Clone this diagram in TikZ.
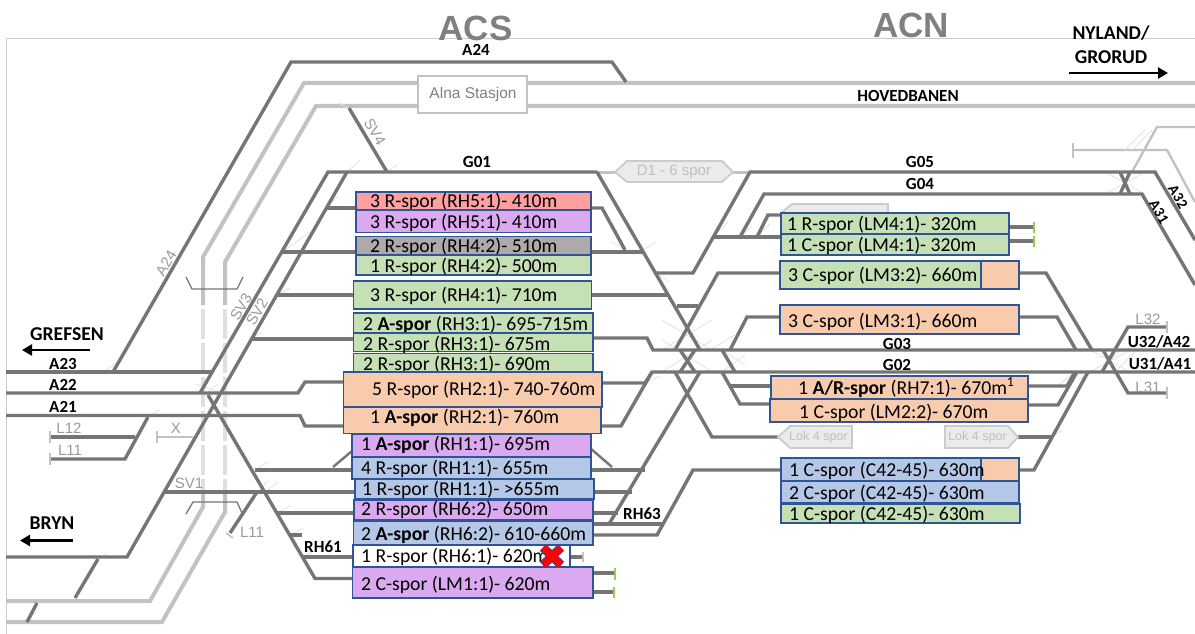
\documentclass[tikz,border=0pt]{standalone}
\usepackage{fontspec}
\setmainfont{Carlito}
\newfontfamily\arialf{Liberation Sans}
\usetikzlibrary{arrows.meta}
\definecolor{trk}{HTML}{757575}
\definecolor{lgt}{HTML}{C2C2C2}
\definecolor{dsh}{HTML}{E0E0E0}
\definecolor{shd}{HTML}{E2E2E2}
\definecolor{gtxt}{HTML}{9A9A9A}
\definecolor{bord}{HTML}{2F5597}
\definecolor{cgreen}{HTML}{C5E0B4}
\definecolor{corange}{HTML}{F8CBAD}
\definecolor{cpurple}{HTML}{DBA9F0}
\definecolor{cblue}{HTML}{B4C7E7}
\definecolor{cred}{HTML}{FF9F9F}
\definecolor{cgray}{HTML}{AEAAAA}
\definecolor{tgreen}{HTML}{92D050}
\tikzset{
  track/.style={draw=trk,line width=3.4pt,line join=miter},
  thin track/.style={draw=trk,line width=2.4pt},
  light track/.style={draw=lgt,line width=4pt},
  light thin/.style={draw=lgt,line width=2.4pt},
  dash track/.style={draw=dsh,line width=4pt,dash pattern=on 30pt off 4pt},
  shadow/.style={draw=shd,line width=0.8pt},
  endstop/.style={draw=lgt,line width=1.6pt},
  greenstop/.style={draw=tgreen,line width=2pt},
  boxshape/.style={draw=bord,line width=1.1pt},
  boxtext/.style={anchor=west,inner sep=0pt,font=\fontsize{19.7}{20}\selectfont,text height=14pt,text depth=2pt,text=black},
  blabel/.style={inner sep=0pt,font=\fontsize{17}{17}\selectfont\bfseries,text=black},
  place/.style={inner sep=0pt,font=\fontsize{19.6}{20}\selectfont\bfseries,text=black},
  glabel/.style={inner sep=0pt,font=\arialf\fontsize{15}{15}\selectfont,text=gtxt},
  bigarrow/.style={draw=black,line width=2.6pt,-{Triangle[length=10pt,width=11pt]}},
  plate/.style={draw=lgt!85,fill=black!8,line width=1.8pt},
  platetext/.style={inner sep=0pt,font=\arialf\fontsize{12.6}{13}\selectfont,text=black!25},
}
% name, x1, y1, x2, y2, fill, text x, text y, text
\newcommand{\sporbox}[9]{%
  \path[boxshape,fill=#6] (#2,#3) rectangle (#4,#5);
  \node[boxtext] (#1) at (#7,#8) {#9};
}
\begin{document}
\begin{tikzpicture}[x=1pt,y=-1pt]
\useasboundingbox (0,0) rectangle (1195,634);
\fill[white] (0,0) rectangle (1195,634);
% frame
\draw[black!20,line width=0.9pt] (6,634) -- (6,38.5) -- (1195,38.5);
% light tracks
\draw[light track] (1195,83) -- (304,83) -- (203,257) -- (203,305);
\draw[light track] (1195,106) -- (316,106) -- (225,262) -- (225,305);
\draw[dash track] (203,309) -- (203,490);
\draw[dash track] (225,309) -- (225,490);
\draw[light track] (6,601) -- (150,601) -- (203,507) -- (203,490);
\draw[light track] (6,622) -- (162,622) -- (225,512) -- (225,490);
\draw[light thin] (1195,127) -- (1157,127) -- (1132,172);
\draw[light thin] (1073,150) -- (1167,150) -- (1195,202);
\draw[endstop] (1073,143) -- (1073,158);
% faint switch shadows
\foreach \xa/\ya/\xb/\yb in {103/372/115/364,203/396/218/384,230/396/196/384,147/417/160/410,163/492/172/480,
  257/492/268/481,265/492/278/482,98/560/108/553,27/621/37/611,
  255/470/268/462,277/513/290/506,290/535/303/528,303/557/314/551,250/339/262/332,
  277/295/290/288,282/252/310/232,326/208/338/196,347/172/360/160,349/108/338/103,387/172/397/165,
  626/81/622/72,625/250/612/242,643/250/656/242,655/273/668/281,
  698/306/708/298,713/237/728/222,740/237/752/226,757/237/770/224,
  662/350/712/320,712/350/662/320,662/372/712/340,712/372/662/340,
  710/350/735/335,722/372/745/355,722/350/745/365,
  645/383/660/376,632/492/622/500,645/470/632/478,1052/437/1062/430,
  1105/172/1145/194,1145/172/1105/194,1125/150/1145/130,1132/150/1152/130,
  1075/372/1060/384,1090/372/1078/380,
  1090/350/1130/372,1130/350/1090/372,1100/372/1120/350,1115/372/1135/352}
  {\draw[shadow] (\xa,\ya) -- (\xb,\yb);}
% dark tracks: A24, SV lines
\draw[track] (113,372) -- (291,62) -- (612,62) -- (626,82);
\draw[track] (349,108) -- (387,172);
\draw[track] (6,372) -- (213,372);
\draw[track] (200,393) -- (328,172) -- (597,172);
\draw[track] (347,172) -- (127,557) -- (6,557);
\draw[track] (6,393) -- (298,393) -- (305,382) -- (343,382);
\draw[track] (6,415.5) -- (300,415.5) -- (305,426) -- (343,426);
\draw[track] (208,395) -- (315,578.5) -- (352,578.5);
\draw[track] (148,417) -- (125,459) -- (50,459);
\draw[track] (135,437) -- (50,437);
\draw[light thin] (157,437) -- (193,437);
\draw[endstop] (157,431) -- (157,443);
\draw[endstop] (50,431) -- (50,443);
\draw[endstop] (50,453) -- (50,465);
\draw[track] (163,492) -- (355,492);
\draw[track] (257,492) -- (230,533);
\draw[endstop] (226,533) -- (233,538);
\draw[track] (278,513) -- (354,513);
\draw[track] (290,535) -- (302,535);
\draw[track] (303,557) -- (353,557);
\draw[track] (255,470) -- (352,470);
\draw[thin track] (333,467) -- (352,451);
\draw[track] (326,208) -- (356,208);
\draw[track] (282,252) -- (356,252);
\draw[track] (277,295) -- (353,295);
\draw[track] (252,339) -- (353,339);
\draw[track] (98,559) -- (75,598);
\draw[track] (37,603) -- (27,622);
% bridges
\draw[draw=trk,line width=1.3pt] (186,277) -- (192,289) -- (237,289) -- (243,277);
\draw[draw=trk,line width=1.3pt] (186,514) -- (193,502) -- (237,502) -- (242,513);
% centre
\draw[light track,line width=3pt] (597,172) -- (615,172);
\draw[light track,line width=3pt] (733,172) -- (750,172);
\draw[track] (597,172) -- (700,350);
\draw[track] (591,208) -- (602,208) -- (625,250);
\draw[track] (591,252) -- (643,252);
\draw[track] (592,295) -- (668,295);
\draw[track] (655,273) -- (693,273) -- (750,172) -- (1155,172) -- (1195,240);
\draw[track] (713,237) -- (782,237);
\draw[track] (740,237) -- (764,194) -- (1142,194) -- (1195,285);
\draw[track] (757,237) -- (768,215) -- (782,215);
\draw[track] (782,273) -- (718,273) -- (675,350);
\draw[track] (677,306) -- (698,306);
\draw[track] (592,338) -- (647,338) -- (653,350) -- (1195,350);
\draw[track] (602,383) -- (645,383) -- (652,372) -- (1195,372);
\draw[track] (602,426) -- (621,426) -- (652,372);
\draw[track] (680,350) -- (695,372);
\draw[track] (695,350) -- (680,372);
\draw[track] (675,372) -- (712,437) -- (782,437);
\draw[track] (700,372) -- (609,524);
\draw[track] (782,317) -- (747,317) -- (730,350);
\draw[track] (722,350) -- (735,372);
\draw[track] (722,372) -- (740,404) -- (772,404);
\draw[track] (730,386) -- (772,386);
\draw[thin track] (590,448) -- (612,467);
\draw[track] (591,470) -- (645,470);
\draw[track] (593,492) -- (632,492);
\draw[track] (593,513) -- (618,513);
\draw[track] (593,524) -- (662,524);
\draw[track] (593,535) -- (657,535) -- (693,470) -- (782,470);
\draw[track] (570,557) -- (582,557);
\draw[endstop] (583,552) -- (583,562);
\draw[track] (592,573) -- (614,573);
\draw[track] (592,592) -- (614,592);
\draw[greenstop] (614.5,568) -- (614.5,580);
\draw[greenstop] (614,587) -- (614,598);
% right
\draw[track] (1120,172) -- (1130,194);
\draw[track] (1130,172) -- (1120,194);
\draw[track] (1009,227) -- (1033,227);
\draw[track] (1009,241) -- (1033,241);
\draw[greenstop] (1033.5,222) -- (1033.5,233);
\draw[greenstop] (1033.5,236) -- (1033.5,247);
\draw[track] (1019,273) -- (1046,273) -- (1092,350);
\draw[track] (1019,317) -- (1057,317) -- (1076,350);
\draw[track] (1167,327) -- (1128,327) -- (1102,372);
\draw[track] (1103,350) -- (1128,393) -- (1167,393);
\draw[endstop] (1167,321) -- (1167,333);
\draw[endstop] (1167,387) -- (1167,399);
\draw[track] (1027,386) -- (1067,386) -- (1075,372);
\draw[track] (1027,405) -- (1058,405) -- (1077,372);
\draw[track] (1018,470) -- (1034,470) -- (1088,372);
\draw[track] (1018,437) -- (1052,437);
% plates
\node[plate,draw=lgt,minimum width=109pt,minimum height=37pt,inner sep=0pt,fill=white,line width=2.4pt] (alna) at (472.5,94.5) {};
\node[inner sep=0pt,font=\arialf\fontsize{15.5}{16}\selectfont,text=black!50] (alnat) at (473,94) {Alna Stasjon};
\path[plate] (615,172) -- (627,161) -- (722,161) -- (733,172) -- (722,182) -- (627,182) -- cycle;
\node[platetext,font=\arialf\fontsize{15}{15}\selectfont] (d1) at (674,171.5) {D1 - 6 spor};
\path[plate] (778,437) -- (790,426) -- (852,426) -- (852,448) -- (790,448) -- cycle;
\node[platetext] (lok1) at (818.5,437) {Lok 4 spor};
\path[plate] (1018,437) -- (1008,426) -- (945,426) -- (945,448) -- (1008,448) -- cycle;
\node[platetext] (lok2) at (977.5,437) {Lok 4 spor};
\path[plate] (781,213) -- (792,204) -- (888,204) -- (888,213) -- cycle;
% left column boxes
\sporbox{b1}{356}{192}{591}{210}{cred}{370}{201}{3 R-spor (RH5:1)- 410m}
\sporbox{b2}{356}{210}{591}{232.5}{cpurple}{370}{222}{3 R-spor (RH5:1)- 410m}
\sporbox{b3}{356}{236.5}{591}{255}{cgray}{370}{246.5}{2 R-spor (RH4:2)- 510m}
\sporbox{b4}{356}{255}{591}{275}{cgreen}{370}{266.5}{1 R-spor (RH4:2)- 500m}
\sporbox{b5}{353.5}{281}{591.5}{309}{cgreen}{370}{295.5}{3 R-spor (RH4:1)- 710m}
\sporbox{b6}{353.5}{313}{593}{333}{cgreen}{363}{324}{2 \textbf{A-spor} (RH3:1)- 695-715m}
\sporbox{b7}{353.5}{333}{593}{351.5}{cgreen}{363}{344}{2 R-spor (RH3:1)- 675m}
\sporbox{b8}{353.5}{353.5}{593}{376}{cgreen}{363}{364}{2 R-spor (RH3:1)- 690m}
\sporbox{b9}{343.5}{372}{602}{407}{corange}{372}{389.5}{5 R-spor (RH2:1)- 740-760m}
\sporbox{b10}{343.5}{407}{601}{433.5}{corange}{370}{417}{1 \textbf{A-spor} (RH2:1)- 760m}
\sporbox{b11}{352}{434.5}{591}{457}{cpurple}{361}{444.5}{1 \textbf{A-spor} (RH1:1)- 695m}
\sporbox{b12}{352}{457}{591}{479}{cblue}{361}{468}{4 R-spor (RH1:1)- 655m}
\sporbox{b13}{355}{479}{594}{499}{cblue}{362}{489}{1 R-spor (RH1:1)- >655m}
\sporbox{b14}{354}{500}{593}{520}{cpurple}{361}{509}{2 R-spor (RH6:2)- 650m}
\sporbox{b15}{353.5}{521}{593}{545}{cblue}{361}{534}{2 \textbf{A-spor} (RH6:2)- 610-660m}
\sporbox{b16}{353}{545}{570}{567}{white}{361}{556}{1 R-spor (RH6:1)- 620m}
\sporbox{b17}{352.5}{567}{593}{598}{cpurple}{361}{584.5}{2 C-spor (LM1:1)- 620m}
% red cross
\draw[bord,line width=9pt] (543,547.5) -- (561,565);
\draw[bord,line width=9pt] (561,547.5) -- (543,565);
\draw[red,line width=7pt] (543,547.5) -- (561,565);
\draw[red,line width=7pt] (561,547.5) -- (543,565);
% right column boxes
\sporbox{r1}{781}{213}{1009}{234}{cgreen}{787}{224}{1 R-spor (LM4:1)- 320m}
\sporbox{r2}{781}{234}{1009}{255}{cgreen}{787}{245}{1 C-spor (LM4:1)- 320m}
\path[boxshape,fill=corange] (981,261) rectangle (1019,289);
\sporbox{r3}{780}{261}{981}{289}{cgreen}{788}{275}{3 C-spor (LM3:2)- 660m}
\sporbox{r4}{780}{305}{1019}{334}{corange}{788}{321}{3 C-spor (LM3:1)- 660m}
\sporbox{r5}{771}{376}{1028}{399}{corange}{798}{388}{1 \textbf{A/R-spor} (RH7:1)- 670m\textsuperscript{1}}
\sporbox{r6}{770}{399}{1028}{422}{corange}{799}{412}{1 C-spor (LM2:2)- 670m}
\path[boxshape,fill=corange] (981,458) rectangle (1019,481);
\sporbox{r7}{781}{458}{981}{481}{cblue}{789}{470}{1 C-spor (C42-45)- 630m}
\sporbox{r8}{781}{481}{1019}{503}{cblue}{789}{493}{2 C-spor (C42-45)- 630m}
\sporbox{r9}{781}{504}{1020}{523}{cgreen}{789}{514}{1 C-spor (C42-45)- 630m}
% titles
\node[inner sep=0pt,font=\arialf\fontsize{35}{35}\selectfont\bfseries,text=black!50] (acs) at (475.5,28) {ACS};
\node[inner sep=0pt,font=\arialf\fontsize{35}{35}\selectfont\bfseries,text=black!50] (acn) at (911,25.5) {ACN};
% place labels
\node[place] (nyl) at (1111,33) {NYLAND/};
\node[place] (gro) at (1111,57) {GRORUD};
\coordinate (nyla) at (1069,73); \coordinate (nylb) at (1168,73);
\draw[bigarrow] (nyla) -- (nylb);
\node[place] (gre) at (67,334) {GREFSEN};
\coordinate (grea) at (90,350); \coordinate (greb) at (22,350);
\draw[bigarrow] (grea) -- (greb);
\node[place] (bry) at (52,523) {BRYN};
\coordinate (brya) at (73,540.5); \coordinate (bryb) at (20,540.5);
\draw[bigarrow] (brya) -- (bryb);
% track labels
\node[blabel] (la24) at (476,49.5) {A24};
\node[blabel] (lhov) at (908,95.5) {HOVEDBANEN};
\node[blabel] (lg01) at (477,162) {G01};
\node[blabel] (lg05) at (920,162) {G05};
\node[blabel] (lg04) at (920,184) {G04};
\node[blabel] (lg03) at (897,343.5) {G03};
\node[blabel] (lg02) at (897,365) {G02};
\node[blabel] (la23) at (63,364) {A23};
\node[blabel] (la22) at (63,385) {A22};
\node[blabel] (la21) at (63,407) {A21};
\node[blabel] (lr61) at (323,547) {RH61};
\node[blabel] (lr63) at (642,514) {RH63};
\node[blabel] (lu32) at (1159,342) {U32/A42};
\node[blabel] (lu31) at (1160,364) {U31/A41};
\node[blabel,font=\fontsize{15}{15}\selectfont\bfseries,rotate=-60] (la32) at (1178,197) {A32};
\node[blabel,font=\fontsize{15}{15}\selectfont\bfseries,rotate=-60] (la31) at (1159,212) {A31};
% grey labels
\node[glabel] (gl12) at (69,428.5) {L12};
\node[glabel] (gl11) at (70,450.5) {L11};
\node[glabel] (gx) at (176,428.5) {X};
\node[glabel] (gsv1) at (189,483) {SV1};
\node[glabel] (gl11b) at (252,532) {L11};
\node[glabel] (gl32) at (1148,319.5) {L32};
\node[glabel] (gl31) at (1148,387) {L31};
\node[glabel,rotate=60] (ga24) at (166,263) {A24};
\node[glabel,rotate=60] (gsv3) at (241,307) {SV3};
\node[glabel,rotate=60] (gsv2) at (257,312) {SV2};
\node[glabel,rotate=-60] (gsv4) at (375,132) {SV4};
\end{tikzpicture}
\end{document}
